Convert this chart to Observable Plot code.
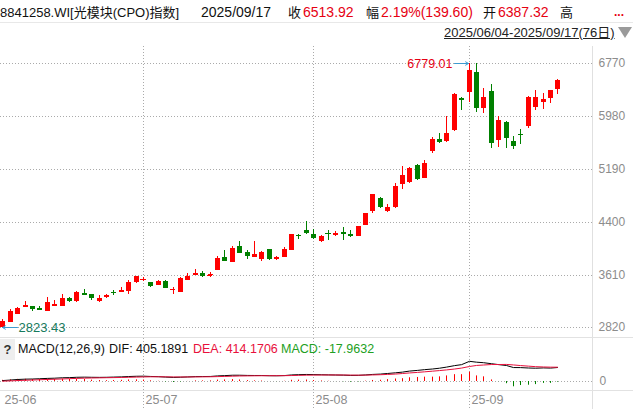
<!DOCTYPE html>
<html><head><meta charset="utf-8">
<script src="https://cdn.jsdelivr.net/npm/d3@7"></script>
<script src="https://cdn.jsdelivr.net/npm/@observablehq/plot@0.6"></script>
<style>
html,body{margin:0;padding:0;background:#fff;}
#wrap{position:relative;width:633px;height:409px;overflow:hidden;font-family:"Liberation Sans","Noto Sans CJK SC",sans-serif;background:#fff;}
.t{position:absolute;white-space:nowrap;}
.ln{position:absolute;left:0;width:633px;height:1px;}
</style></head><body><div id="wrap"></div>
<script>
// ---- data ----
const code = "8841258.WI[光模块(CPO)指数]";
const lastDate = "2025/09/17";
const rangeText = "2025/06/04-2025/09/17(76日)";
const opens = [2829,2903,3023,3127,3137,3103,3067,3142,3142,3257,
  3212,3331,3316,3212,3267,3345,3346,3366,3500,3541,
  3495,3450,3510,3392,3351,3530,3600,3629,3607,3679,
  3868,3793,4032,3942,3868,3838,3987,3838,3872,3977,
  4198,4270,4211,4106,4238,4196,4241,4211,4185,4349,
  4558,4762,4558,4618,4960,4990,5254,5060,5452,5642,
  5601,5765,6253,6347,6645,6108,6362,5616,5895,5612,
  5716,5825,6123,6198,6257,6387.32];
const highs = [2939,3093,3127,3216,3140,3137,3272,3227,3316,3272,
  3361,3391,3320,3297,3316,3380,3416,3535,3590,3574,
  3500,3535,3535,3421,3570,3629,3689,3659,3649,3883,
  3972,4032,4106,3972,4106,3962,3990,3883,4017,4215,
  4211,4404,4296,4196,4281,4266,4315,4270,4340,4530,
  4815,4770,4658,4986,5239,5224,5269,5329,5671,5731,
  5985,6320,6260,6779.01,6770,6402,6462,5980,5900,5686,
  5791,6275,6377,6332,6377,6536];
const lows = [2823.43,2898,3020,3125,3067,3080,3065,3140,3140,3197,
  3197,3298,3231,3197,3265,3297,3345,3321,3485,3515,
  3425,3448,3405,3321,3348,3528,3598,3570,3570,3675,
  3810,3790,3930,3843,3865,3808,3828,3823,3870,3975,
  4136,4221,4136,4091,4132,4185,4126,4166,4180,4345,
  4528,4612,4538,4612,4886,4985,5020,5055,5423,5580,
  5595,5760,6074,6198,6044,6025,5497,5512,5497,5493,
  5567,5795,6078,6093,6183,6317];
const closes = [2918,3067,3112,3157,3097,3082,3197,3172,3257,3208,
  3346,3301,3261,3257,3306,3339,3376,3495,3585,3547,
  3440,3510,3410,3398,3555,3589,3629,3585,3613,3853,
  3813,4002,3932,3887,3913,3947,3838,3868,3987,4211,
  4190,4236,4162,4181,4230,4226,4215,4181,4334,4524,
  4807,4618,4613,4941,5105,5209,5045,5284,5642,5587,
  5731,6312,6227,6670,6108,6268,5572,5925,5646,5527,
  5708,6268,6268,6242,6374.32,6513.92];
const difs = [27,42,58,68,72,80,90,96,108,112,
  122,126,122,120,122,128,134,144,152,154,
  146,140,128,118,124,132,142,144,146,162,
  170,182,182,176,174,174,168,166,172,190,
  198,204,200,196,192,188,184,176,178,190,
  205,215,232,252,272,302,322,343,362,385,
  417,460,488,585,560,545,515,490,463,404,
  403,391,385,394,389,405.1891];
const deas = [10,18,27,36,43,51,59,66,74,82,
  90,97,102,106,110,113,117,122,128,133,
  136,137,135,132,131,131,133,135,137,142,
  147,154,160,163,165,167,168,168,169,173,
  178,183,186,188,189,189,188,186,184,185,
  190,197,205,216,231,248,264,280,299,317,
  336,361,389,435,465,478,492,492,495,480,
  462,445,430,421,416,414.1706];
const hists = [34,48,62,64,58,58,62,60,68,60,
  64,58,40,28,24,30,34,44,48,42,
  20,6,-14,-28,-14,2,18,18,18,40,
  46,56,44,26,18,14,0,-4,6,34,
  40,42,28,16,6,-2,-8,-20,-12,10,
  30,36,54,72,81,108,117,126,126,135,
  162,198,198,270,162,135,45,-4,-63,-153,
  -117,-108,-90,-54,-54,-17.9632];
const yTicks = [2820,3610,4400,5190,5980,6770];
const gridIdx = [19,42,63];
const labelIdx = [0,19,42,63];
const monthLabels = ["25-06","25-07","25-08","25-09"];

// ---- build ----
const RED = "#ff0000", GREEN = "#008000", GRID = "#aaaaaa", AXT = "#8c8c8c";
const FONT = "'Liberation Sans','Noto Sans CJK SC',sans-serif";
const xDomain = [-0.324, 79.676];
const candles = opens.map((o,i)=>({i, open:o, high:highs[i], low:lows[i], close:closes[i]}));
const col = d => d.close >= d.open ? RED : GREEN;
const hiIdx = highs.indexOf(Math.max(...highs));
const loIdx = lows.indexOf(Math.min(...lows));

const wrap = document.getElementById("wrap");

const main = Plot.plot({
  width: 633, height: 338,
  marginLeft: 0, marginRight: 41, marginTop: 46, marginBottom: 0,
  x: {domain: xDomain, range: [0, 592], round: true, axis: null},
  y: {domain: [2820, 6770], range: [327.3, 63.3], round: true, axis: null},
  style: {background: "transparent", fontFamily: FONT, fontSize: "12px", overflow: "visible"},
  marks: [
    Plot.ruleY(yTicks, {stroke: GRID, strokeDasharray: "1,2"}),
    Plot.ruleX(gridIdx, {stroke: GRID, strokeDasharray: "1,2"}),
    Plot.ruleX([xDomain[1]], {stroke: "#e0e0e0"}),
    Plot.ruleX(candles, {x: "i", y1: "low", y2: "high", stroke: col}),
    Plot.ruleX(candles, {x: "i", y1: "open", y2: "close", stroke: col, strokeWidth: 5}),
    Plot.ruleY(candles.filter(d => Math.abs(d.close - d.open) < 15),
      {x1: d => d.i - 0.34, x2: d => d.i + 0.34, y: "open", stroke: col}),
    Plot.text(yTicks, {y: d => d, text: d => String(d), frameAnchor: "right", dx: 6,
      textAnchor: "start", fill: AXT, fontSize: 12}),
    Plot.arrow([hiIdx], {x1: d => d - 2, x2: d => d, y1: d => highs[d], y2: d => highs[d],
      stroke: "#3d9bd1", strokeWidth: 1, headLength: 5, insetEnd: 1}),
    Plot.text([hiIdx], {x: d => d - 2, y: d => highs[d], text: d => highs[d].toFixed(2),
      dx: -2, textAnchor: "end", fill: "#e60012", fontSize: 12.5}),
    Plot.arrow([loIdx], {x1: d => d + 2, x2: d => d, y1: d => lows[d], y2: d => lows[d],
      stroke: "#3d9bd1", strokeWidth: 1, headLength: 5, insetEnd: 0}),
    Plot.text([loIdx], {x: d => d + 2, y: d => lows[d], text: d => lows[d].toFixed(2),
      dx: 1, textAnchor: "start", fill: "#167a5c", fontSize: 13})
  ]
});
main.style.position = "absolute"; main.style.left = "0px"; main.style.top = "0px";
wrap.appendChild(main);

const macd = difs.map((v,i)=>({i, dif: v, dea: deas[i], hist: hists[i]}));
const sub = Plot.plot({
  width: 633, height: 71,
  marginLeft: 0, marginRight: 41, marginTop: 0, marginBottom: 0,
  x: {domain: xDomain, range: [0, 592], round: true, axis: null},
  y: {domain: [0, 600], range: [43, 22.3], axis: null},
  style: {background: "transparent", fontFamily: FONT, fontSize: "12px", overflow: "visible"},
  marks: [
    Plot.ruleX(gridIdx, {stroke: GRID, strokeDasharray: "1,2"}),
    Plot.ruleX([xDomain[1]], {stroke: "#e0e0e0"}),
    Plot.ruleY([0], {stroke: GRID, strokeDasharray: "1,2"}),
    Plot.ruleX(macd, {x: "i", y1: 0, y2: "hist", stroke: d => d.hist >= 0 ? RED : GREEN}),
    Plot.line(macd, {x: "i", y: "dif", stroke: "#000", strokeWidth: 1}),
    Plot.line(macd, {x: "i", y: "dea", stroke: "#e8103c", strokeWidth: 1}),
    Plot.text([0], {y: d => d, text: d => String(d), frameAnchor: "right", dx: 7,
      textAnchor: "start", fill: AXT, fontSize: 12}),
    Plot.text(labelIdx, {x: d => d, text: (d, i) => monthLabels[i], frameAnchor: "bottom",
      dy: -6, dx: 2, textAnchor: "start", fill: AXT, fontSize: 12.5})
  ]
});
sub.style.position = "absolute"; sub.style.left = "0px"; sub.style.top = "338px";
wrap.appendChild(sub);

// ---- html texts ----
function addText(txt, left, centerY, size, color, extra) {
  const s = document.createElement("div");
  s.className = "t";
  s.textContent = txt;
  s.style.left = left + "px";
  s.style.top = (centerY - size / 2) + "px";
  s.style.fontSize = size + "px";
  s.style.lineHeight = size + "px";
  s.style.color = color;
  if (extra) Object.assign(s.style, extra);
  wrap.appendChild(s);
  return s;
}
function addLine(top, color) {
  const d = document.createElement("div");
  d.className = "ln"; d.style.top = top + "px"; d.style.background = color;
  wrap.appendChild(d);
}
addLine(22, "#e8e8e8");
addLine(337, "#e2e2e2");
addLine(390, "#e2e2e2");

const n = closes.length;
const chg = closes[n-1] - closes[n-2];
const pct = chg / closes[n-2] * 100;
const HC = "#111", HR = "#e60012";
addText(code, 0, 12, 13, HC);
addText(lastDate, 201, 12, 14, HC);
addText("收", 288, 12, 13, HC);
addText(closes[n-1].toFixed(2), 303, 12, 14, HR);
addText("幅", 366, 12, 13, HC);
addText(pct.toFixed(2) + "%(" + chg.toFixed(2) + ")", 381, 12, 14, HR);
addText("开", 483, 12, 13, HC);
addText(opens[n-1].toFixed(2), 498, 12, 14, HR);
addText("高", 560, 12, 13, HC);
addText("...", 614, 12, 12, HR, {fontWeight: "bold"});

addText(rangeText, 444, 32, 13, "#222", {textDecoration: "underline"});
const tri = document.createElement("div");
Object.assign(tri.style, {position: "absolute", left: "618px", top: "27px", width: "0", height: "0",
  borderLeft: "7px solid transparent", borderRight: "7px solid transparent", borderTop: "11px solid #9a9a9a"});
wrap.appendChild(tri);

const q = document.createElement("div");
Object.assign(q.style, {position: "absolute", left: "0px", top: "339px", width: "15px", height: "21px",
  background: "#eeeeee", color: "#333", fontSize: "13px", lineHeight: "21px", textAlign: "center", fontWeight: "bold"});
q.textContent = "?";
wrap.appendChild(q);
addText("MACD(12,26,9)", 18, 349, 12.5, "#111");
addText("DIF: " + difs[n-1].toFixed(4), 109, 349, 12.5, "#111");
addText("DEA: " + deas[n-1].toFixed(4), 193, 349, 12.5, "#e8103c");
addText("MACD: " + hists[n-1].toFixed(4), 281, 349, 12.5, "#22a022");
</script>
</body></html>
